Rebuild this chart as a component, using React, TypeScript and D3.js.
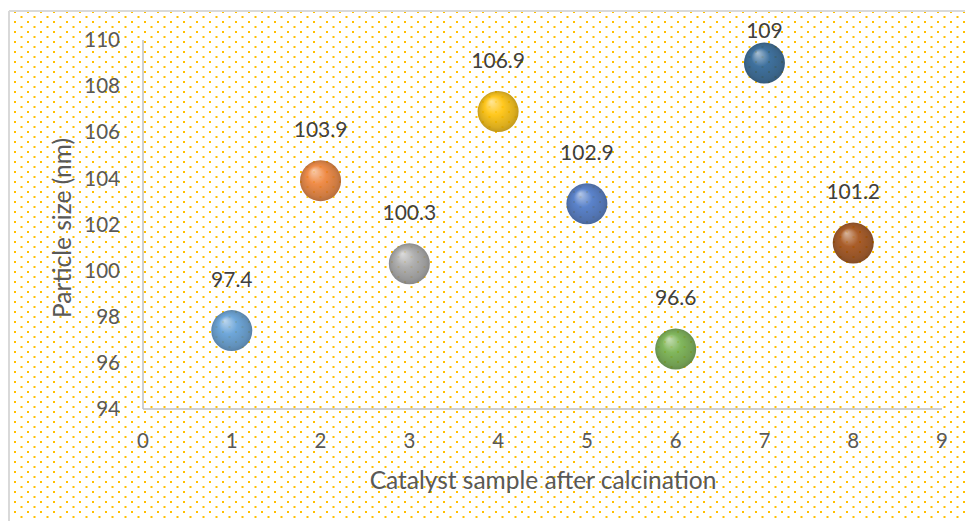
import React from "react";
import * as d3 from "d3";

const samples = [1, 2, 3, 4, 5, 6, 7, 8];
const sizes = [97.4, 103.9, 100.3, 106.9, 102.9, 96.6, 109, 101.2];
const colors = ["#5B9BD5", "#ED7D31", "#A5A5A5", "#FFC000", "#4472C4", "#70AD47", "#255E91", "#9E480E"];
const xTicks = [0, 1, 2, 3, 4, 5, 6, 7, 8, 9];
const yTicks = [94, 96, 98, 100, 102, 104, 106, 108, 110];

const W = 965, H = 521;
const x = d3.scaleLinear().domain([0, 9]).range([143, 942]);
const y = d3.scaleLinear().domain([94, 110]).range([409, 40]);
const font = "Lato, Open Sans, sans-serif";
const textColor = "#595959";

export default function App() {
  const r = 20.5;
  return (
    <svg width={W} height={H} style={{ position: "absolute", left: 0, top: 0 }}>
      <defs>
        <pattern id="dots" width="13" height="10" patternUnits="userSpaceOnUse">
          <rect x="1" y="1" width="2" height="2" fill="#FFC000" />
          <rect x="7.5" y="6" width="2" height="2" fill="#FFC000" />
        </pattern>
        {colors.map((c, i) => {
          const base = d3.color(c)!;
          return (
            <radialGradient key={i} id={`g${i}`} cx="0.5" cy="0.5" r="0.5" fx="0.33" fy="0.25">
              <stop offset="0" stopColor={d3.interpolateRgb(c, "#ffffff")(0.55)} />
              <stop offset="0.45" stopColor={c} />
              <stop offset="0.85" stopColor={base.darker(0.5).toString()} />
              <stop offset="1" stopColor={base.darker(0.9).toString()} />
            </radialGradient>
          );
        })}
      </defs>
      <rect x={0} y={0} width={W} height={H} fill="#ffffff" />
      <rect x={9} y={11} width={W} height={H} fill="url(#dots)" />
      <line x1={9} y1={11} x2={W} y2={11} stroke="#d9d9d9" strokeWidth={2} />
      <line x1={9} y1={11} x2={9} y2={H} stroke="#d9d9d9" strokeWidth={2} />
      <line x1={x(0)} y1={y(94)} x2={x(0)} y2={y(110)} stroke="#bfbfbf" strokeWidth={1.5} />
      <line x1={x(0)} y1={y(94)} x2={x(9)} y2={y(94)} stroke="#bfbfbf" strokeWidth={1.5} />
      {yTicks.map((t) => (
        <text key={t} x={x(0) - 23} y={y(t)} dy="0.35em" textAnchor="end" fontFamily={font} fontSize={20.5} fill={textColor}>
          {t}
        </text>
      ))}
      {xTicks.map((t) => (
        <text key={t} x={x(t)} y={441} dy="0.35em" textAnchor="middle" fontFamily={font} fontSize={20.5} fill={textColor}>
          {t}
        </text>
      ))}
      <text x={543} y={480} dy="0.35em" textAnchor="middle" fontFamily={font} fontSize={24.5} fill={textColor}>
        Catalyst sample after calcination
      </text>
      <text transform={`translate(62,228) rotate(-90)`} dy="0.35em" textAnchor="middle" fontFamily={font} fontSize={24.5} fill={textColor}>
        Particle size (nm)
      </text>
      {samples.map((s, i) => (
        <circle key={s} cx={x(s)} cy={y(sizes[i])} r={r} fill={`url(#g${i})`} opacity={0.88} />
      ))}
      {samples.map((s, i) => (
        <text key={s} x={x(s)} y={Math.max(y(sizes[i]) - 51, 31)} dy="0.35em" textAnchor="middle" fontFamily={font} fontSize={21} fill="#404040">
          {sizes[i]}
        </text>
      ))}
    </svg>
  );
}
